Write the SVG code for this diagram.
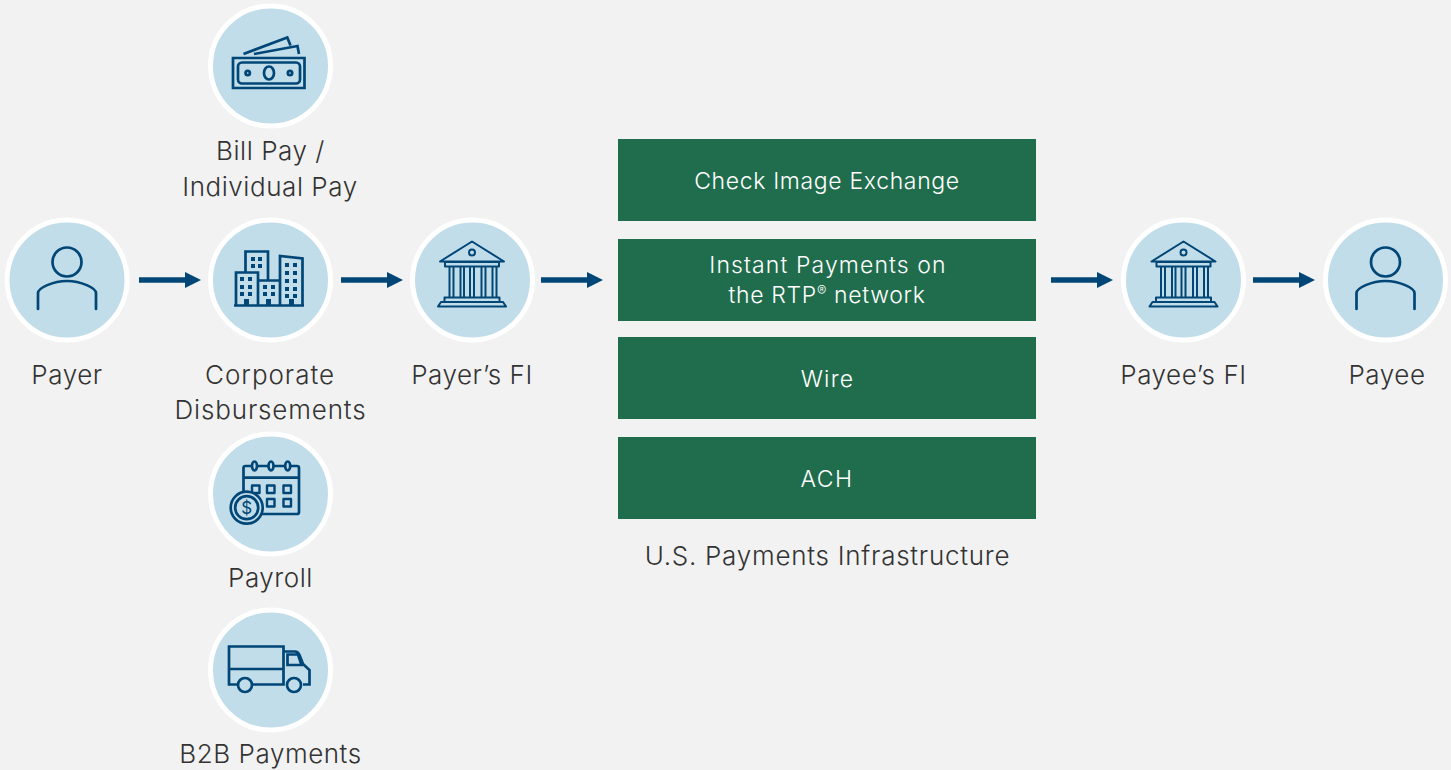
<svg xmlns="http://www.w3.org/2000/svg" width="1451" height="770" viewBox="0 0 1451 770">
<style>
.c{fill:#c1dde9;stroke:#fff;stroke-width:5}
.i{fill:none;stroke:#004677;stroke-width:2.700}
.n{fill:none;stroke:#004677;stroke-width:2;stroke-linejoin:round}
.f{fill:#004677;stroke:none}
.t{font-family:"Inter","Liberation Sans",sans-serif;font-size:26px;fill:#333;text-anchor:middle;letter-spacing:.55px;font-weight:300}
.w{font-family:"Inter","Liberation Sans",sans-serif;font-size:23px;fill:#fff;text-anchor:middle;font-weight:300}
.b{fill:#1f6d4c}
.a{stroke:#004677;stroke-width:5.500;fill:none;marker-end:url(#ah)}
</style>
<defs>
<marker id="ah" markerUnits="userSpaceOnUse" markerWidth="16" markerHeight="16" refX="0" refY="8" orient="auto"><path d="M0 0L16 8L0 16Z" fill="#004677"/></marker>
<g id="person"><circle cx="0" cy="-18" r="14.500" class="i"/><path class="i" stroke-linecap="round" d="M-29 29V13C-29 8-14 1 0 1S29 8 29 13V29"/></g>
<g id="bank"><path class="n" d="M-32 -18.500L0 -38.500L32 -18.500ZM-27 -13.500V-18H27V-13.500ZM-27.500 21V17.500H27.500V21M-34 26.500L-31 22H31L34 26.500ZM-22.500 -13V17M-18.500 -13V17M-11.500 -13V17M-8 -13V17M-2 -13V17M2 -13V17M9.500 -13V17M13.500 -13V17M20.500 -13V17M24.500 -13V17"/><circle cx="0" cy="-27.500" r="3" class="n"/></g>
</defs>
<rect width="1451" height="770" fill="#f2f2f2"/>
<g id="connectors">
<path class="a" d="M139 280H185"/><path class="a" d="M341 280H387"/><path class="a" d="M541 280H587"/><path class="a" d="M1051 280H1097"/><path class="a" d="M1253 280H1299"/>
</g>
<g id="payer"><circle class="c" cx="67" cy="280" r="60"/><use href="#person" x="67" y="280"/><text class="t" x="67" y="384">Payer</text></g>
<g id="bill-pay"><circle class="c" cx="270.500" cy="66" r="60"/>
<path class="i" d="M233 58H304.500V88H233ZM243.500 54L287.300 37.500L290.500 45.500M254 54L297.500 46L299 54"/><rect class="i" x="238" y="62.500" width="62" height="21" rx="4"/><ellipse class="i" cx="269" cy="73" rx="5" ry="6.500"/><circle class="i" cx="247.700" cy="73" r="2.200"/><circle class="i" cx="290" cy="73" r="2.200"/>
<text class="t" x="270.500" y="160">Bill Pay /</text><text class="t" x="270" y="196">Individual Pay</text></g>
<g id="corporate"><circle class="c" cx="270.500" cy="280" r="60"/>
<path class="i" d="M236 305.500V272.500H258V305.500ZM258 305.500V280.500H280V305.500ZM245.500 272V251.500H268V280M280 305.500V256L302.500 258.500V305.500ZM234 305.500H304"/>
<path class="f" d="M251 257h4v4h-4zM258 257h4v4h-4zM251 264h4v4h-4zM258 264h4v4h-4zM240 277h4v4h-4zM248 277h4v4h-4zM240 285h4v4h-4zM248 285h4v4h-4zM240 292h4v4h-4zM248 292h4v4h-4zM263 285h4v4h-4zM271 285h4v4h-4zM263 292h4v4h-4zM271 292h4v4h-4zM285 263h4v4h-4zM293 263h4v4h-4zM285 271h4v4h-4zM293 271h4v4h-4zM285 279h4v4h-4zM293 279h4v4h-4zM285 287h4v4h-4zM293 287h4v4h-4zM285 294h4v4h-4zM293 294h4v4h-4zM244 299h5v6h-5zM266 299h5v6h-5zM289 299h5v6h-5z"/>
<text class="t" x="270" y="384" style="letter-spacing:.95px">Corporate</text><text class="t" x="270.500" y="419" style="letter-spacing:.85px">Disbursements</text></g>
<g id="payers-fi"><circle class="c" cx="472.500" cy="280" r="60"/><use href="#bank" x="472" y="280"/><text class="t" x="472" y="384">Payer’s FI</text></g>
<g id="payroll"><circle class="c" cx="270.500" cy="494" r="60"/>
<rect class="i" x="243.500" y="466" width="55.500" height="48" rx="2"/><path class="i" d="M243.500 477.700H299"/>
<ellipse class="i" cx="254.500" cy="466" rx="2.500" ry="4.500" style="fill:#c1dde9"/><ellipse class="i" cx="271" cy="466" rx="2.500" ry="4.500" style="fill:#c1dde9"/><ellipse class="i" cx="287.700" cy="466" rx="2.500" ry="4.500" style="fill:#c1dde9"/>
<path class="n" style="stroke-width:2.400" d="M252 485.500h7.500v7.500h-7.500zM267 485.500h7.500v7.500h-7.500zM283.500 485.500h7.500v7.500h-7.500zM267 499h7.500v7.500h-7.500zM283.500 499h7.500v7.500h-7.500z"/>
<circle cx="246.700" cy="507.700" r="16" class="i" style="fill:#c1dde9"/><circle cx="246.700" cy="507.700" r="11.500" class="i"/>
<text x="246.700" y="514" font-family="Inter,'Liberation Sans',sans-serif" font-size="17" fill="#004677" text-anchor="middle">$</text>
<text class="t" x="270.500" y="587">Payroll</text></g>
<g id="b2b"><circle class="c" cx="270.500" cy="670" r="60"/>
<path class="i" d="M237 684.500H229V646.500H283.500V684.500H253M229 669H283.500M283.500 651.500H295Q298 651.500 299.500 655L303 664L309.500 670V684.500H303M287.500 654.500V665H301.500L298 654.500Z"/><circle cx="245" cy="685" r="7" class="i"/><circle cx="294" cy="685" r="7" class="i"/>
<text class="t" x="270.500" y="763">B2B Payments</text></g>
<g id="check"><rect class="b" x="618" y="139" width="418" height="82"/><text class="w" x="827" y="189" letter-spacing=".65">Check Image Exchange</text></g>
<g id="rtp"><rect class="b" x="618" y="239" width="418" height="82"/><text class="w" x="828" y="273" letter-spacing="1.1">Instant Payments on</text><text class="w" x="827" y="303" letter-spacing=".65">the RTP<tspan font-size="14" dy="-7">®</tspan><tspan dy="7"> network</tspan></text></g>
<g id="wire"><rect class="b" x="618" y="337" width="418" height="82"/><text class="w" x="827.500" y="387" letter-spacing="1.2">Wire</text></g>
<g id="ach"><rect class="b" x="618" y="437" width="418" height="82"/><text class="w" x="827" y="487" letter-spacing="1.5">ACH</text></g>
<text id="infra" class="t" x="827.500" y="565" style="letter-spacing:.75px">U.S. Payments Infrastructure</text>
<g id="payees-fi"><circle class="c" cx="1183.500" cy="280" r="60"/><use href="#bank" x="1183.500" y="280"/><text class="t" x="1183.500" y="384">Payee’s FI</text></g>
<g id="payee"><circle class="c" cx="1385.500" cy="280" r="60"/><use href="#person" x="1385.500" y="280"/><text class="t" x="1387" y="384">Payee</text></g>
</svg>
